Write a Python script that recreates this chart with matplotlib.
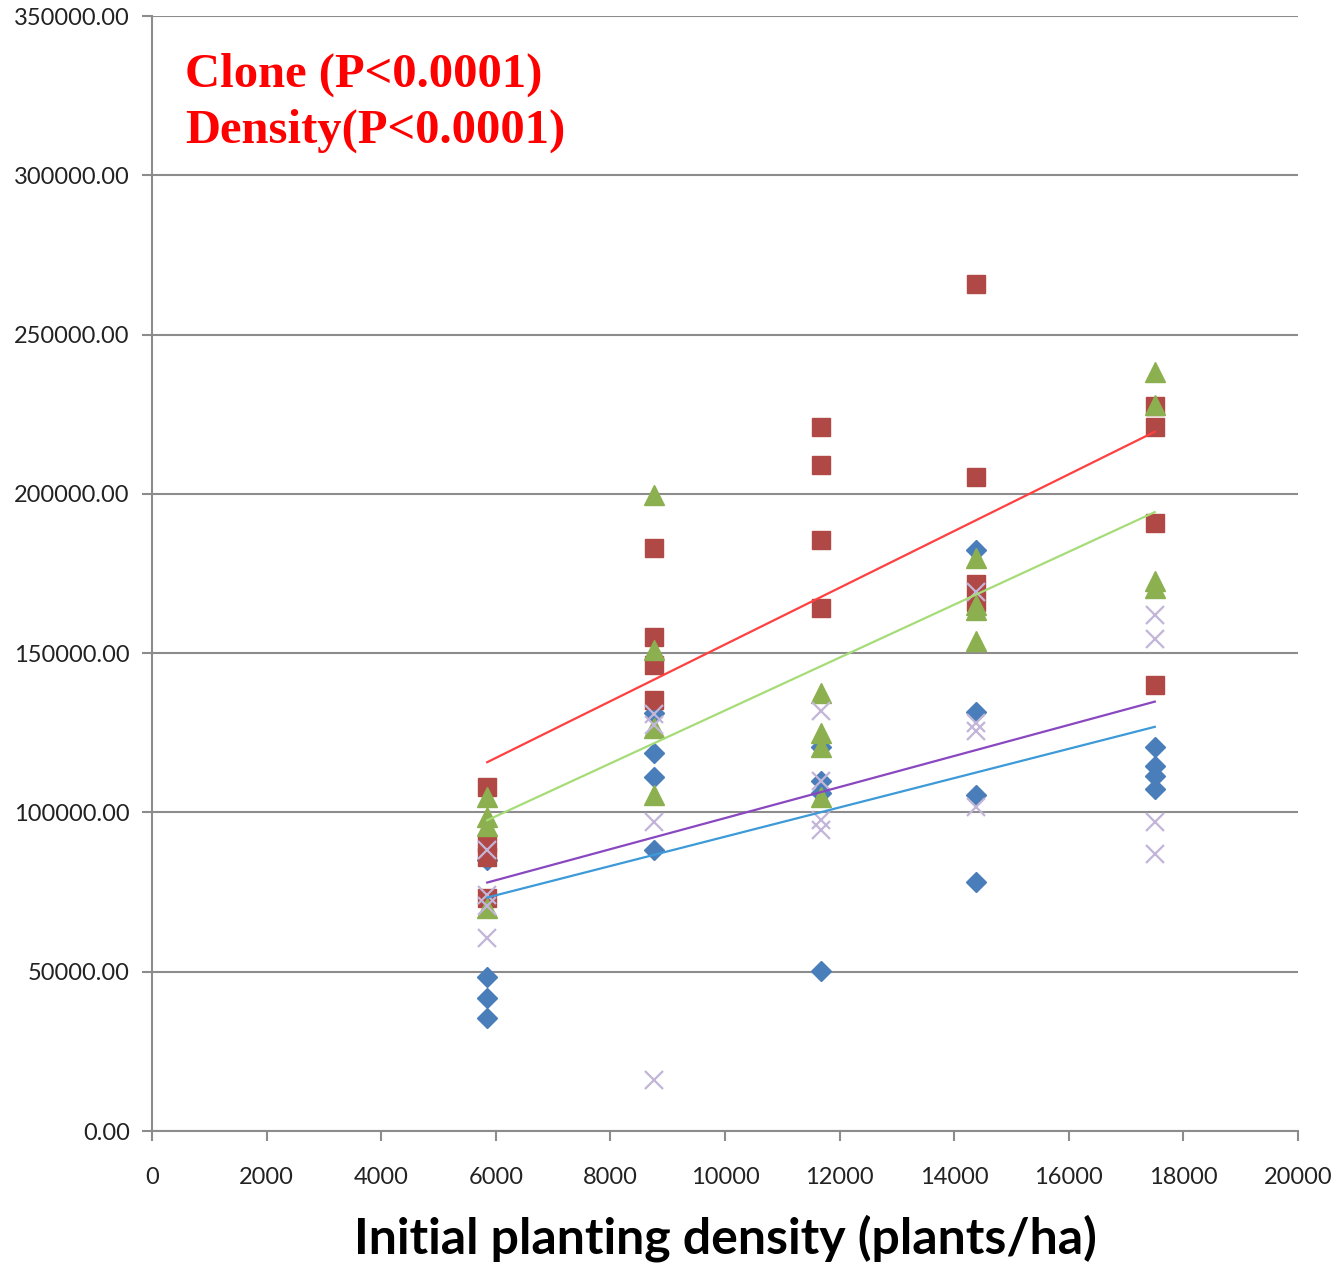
import numpy as np
import matplotlib.pyplot as plt

# planting densities (plants/ha), four replicate plots per clone
density = [5850, 8760, 11670, 14380, 17500]

clone_a = [[48300, 41700, 35500, 85000],
           [131200, 118700, 111100, 88200],
           [120500, 110000, 106000, 50200],
           [182400, 131500, 105500, 78200],
           [120500, 114500, 111500, 107500]]
clone_b = [[108000, 90500, 86000, 73000],
           [183000, 155000, 146300, 135300],
           [221000, 209000, 185500, 164200],
           [266000, 205300, 171700, 166000],
           [227600, 221000, 190800, 140000]]
clone_c = [[105000, 98500, 95700, 70000],
           [199600, 151000, 126500, 105500],
           [137500, 125000, 120500, 105000],
           [180000, 165000, 163500, 153800],
           [238200, 228000, 172500, 170500]]
clone_d = [[88200, 74100, 70500, 60600],
           [127400, 97000, 16000, 131000],
           [132000, 110000, 97600, 94500],
           [169200, 128000, 125500, 101700],
           [162000, 154500, 97000, 87000]]

yticks = [0, 50000, 100000, 150000, 200000, 250000, 300000, 350000]
xticks = list(range(0, 20001, 2000))

series = [
    (clone_a, dict(marker="D", ms=10.5, color="#4a7ebb"), "#3d9ad8"),
    (clone_b, dict(marker="s", ms=13.5, color="#b04845"), "#ff4040"),
    (clone_c, dict(marker="^", ms=14, color="#8cb04f"), "#a6dc78"),
    (clone_d, dict(marker="x", ms=13, color="#c2b5d8", mew=1.6), "#8a48c0"),
]

fig = plt.figure(figsize=(13.4, 12.7), dpi=100)
ax = fig.add_axes([0.1134, 0.1094, 0.8553, 0.878])

for data, style, _ in series:
    xs = np.repeat(density, 4)
    ys = np.array(data).ravel()
    ax.plot(xs, ys, ls="none", zorder=3, **style)

# linear trend lines over the data range
for data, _, lc in series:
    xs = np.repeat(density, 4)
    ys = np.array(data).ravel()
    k, b = np.polyfit(xs, ys, 1)
    xl = np.array([density[0], density[-1]])
    ax.plot(xl, k * xl + b, color=lc, lw=1.6, zorder=4)

ax.set_xlim(0, 20000)
ax.set_ylim(0, 350000)
ax.set_xticks(xticks)
ax.set_yticks(yticks)
ax.set_yticklabels([f"{v:.2f}" for v in yticks])
ax.yaxis.grid(True, color="#8c8c8c", lw=1.5)
ax.set_axisbelow(True)

for s in ["top", "right"]:
    ax.spines[s].set_visible(False)
for s in ["left", "bottom"]:
    ax.spines[s].set_color("#8c8c8c")
    ax.spines[s].set_linewidth(1.5)

ax.tick_params(axis="both", direction="out", length=7, width=1.5, color="#8c8c8c",
               labelsize=17, labelcolor="#222222")
ax.tick_params(axis="x", pad=19)
ax.tick_params(axis="y", pad=9)
for lab in ax.get_xticklabels() + ax.get_yticklabels():
    lab.set_family("Lato")

ax.set_xlabel("Initial planting density (plants/ha)", fontsize=36, fontweight="bold",
              family="Lato", labelpad=19)

ax.text(0.029, 0.967, "Clone (P<0.0001)\nDensity(P<0.0001)", transform=ax.transAxes,
        ha="left", va="top", color="#ff0000", fontsize=35, fontweight="bold",
        family="Liberation Serif", linespacing=1.33)

fig.savefig("out.png", dpi=100)
